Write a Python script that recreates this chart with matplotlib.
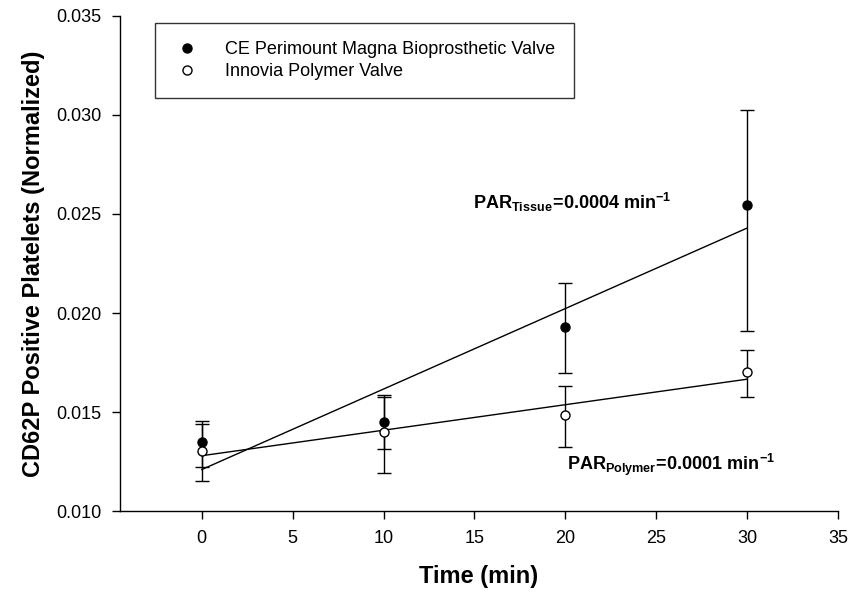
import numpy as np
import matplotlib
matplotlib.use("Agg")
import matplotlib.pyplot as plt

plt.rcParams['font.family'] = ['Liberation Sans', 'DejaVu Sans']
plt.rcParams['mathtext.fontset'] = 'custom'
plt.rcParams['mathtext.rm'] = 'Liberation Sans'
plt.rcParams['mathtext.bf'] = 'Liberation Sans:bold'
plt.rcParams['mathtext.it'] = 'Liberation Sans:italic'

# Sampling times (min)
time_min = [0, 10, 20, 30]

# CE Perimount Magna bioprosthetic valve
tissue_mean = [0.0135, 0.01451, 0.01931, 0.02545]
tissue_lower = [0.01224, 0.01312, 0.01695, 0.01909]
tissue_upper = [0.01439, 0.01577, 0.02150, 0.03025]

# Innovia polymer valve
polymer_mean = [0.01304, 0.01397, 0.01485, 0.01704]
polymer_lower = [0.01153, 0.01193, 0.01323, 0.01576]
polymer_upper = [0.01456, 0.01584, 0.01631, 0.01813]

x_ticks = [0, 5, 10, 15, 20, 25, 30, 35]
y_ticks = [0.010, 0.015, 0.020, 0.025, 0.030, 0.035]

fig = plt.figure(figsize=(8.53, 5.99), dpi=100)
ax = fig.add_axes([0.1407, 0.1469, 0.8417, 0.8264])

t = np.array(time_min, dtype=float)


def draw_series(mean, lower, upper, face, label):
    mean = np.array(mean)
    err = [mean - np.array(lower), np.array(upper) - mean]
    ax.errorbar(t, mean, yerr=err, fmt='none', ecolor='black',
                elinewidth=1.0, capsize=5.3, capthick=1.0, zorder=2)
    ax.plot(t, mean, 'o', ms=6.5, mfc=face, mec='black', mew=1.0,
            ls='none', label=label, zorder=4)
    slope, intercept = np.polyfit(t, mean, 1)
    ax.plot([t[0], t[-1]], [intercept + slope * t[0], intercept + slope * t[-1]],
            color='black', lw=1.0, zorder=3)


draw_series(tissue_mean, tissue_lower, tissue_upper, 'black',
            'CE Perimount Magna Bioprosthetic Valve')
draw_series(polymer_mean, polymer_lower, polymer_upper, 'white',
            'Innovia Polymer Valve')

ax.text(14.9, 0.0256, r'$\mathbf{PAR_{Tissue}\!=\!0.0004\ min^{-1}}$',
        fontsize=13, ha='left', va='center')
ax.text(20.1, 0.01235, r'$\mathbf{PAR_{Polymer}\!=\!0.0001\ min^{-1}}$',
        fontsize=13, ha='left', va='center')

ax.set_xlim(-4.5, 35)
ax.set_ylim(0.010, 0.035)
ax.set_xticks(x_ticks)
ax.set_yticks(y_ticks)
ax.set_yticklabels([f'{v:.3f}' for v in y_ticks])
ax.tick_params(direction='out', length=6, width=1.0, labelsize=13, pad=7.5)

for side in ('top', 'right'):
    ax.spines[side].set_visible(False)
for side in ('left', 'bottom'):
    ax.spines[side].set_linewidth(1.0)

ax.set_xlabel('Time (min)', fontsize=17, fontweight='bold', labelpad=13)
ax.set_ylabel('CD62P Positive Platelets (Normalized)', fontsize=17,
              fontweight='bold', labelpad=8)

leg = ax.legend(loc='upper left', bbox_to_anchor=(0.0487, 0.986), fontsize=13,
                frameon=True, fancybox=False, edgecolor='black',
                borderpad=1.0, handletextpad=1.3, labelspacing=0.3,
                borderaxespad=0, handlelength=1.6)
leg.get_frame().set_linewidth(1.0)

fig.savefig('out.png', dpi=100)
